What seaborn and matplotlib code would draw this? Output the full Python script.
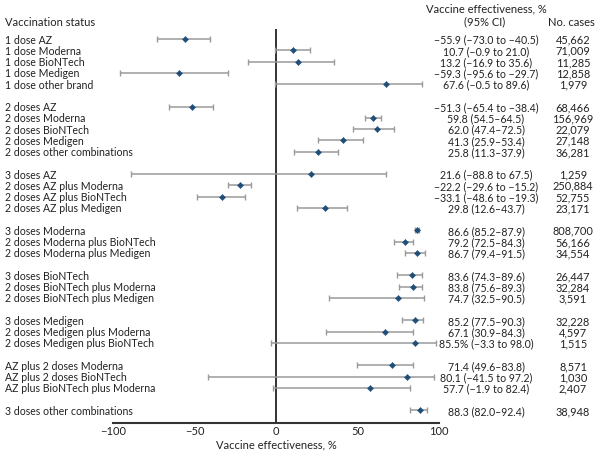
import matplotlib
matplotlib.use("Agg")
import matplotlib.pyplot as plt
from matplotlib import transforms
import seaborn as sns
import numpy as np
import pandas as pd

groups = [
    ["1 dose AZ", "1 dose Moderna", "1 dose BioNTech", "1 dose Medigen", "1 dose other brand"],
    ["2 doses AZ", "2 doses Moderna", "2 doses BioNTech", "2 doses Medigen", "2 doses other combinations"],
    ["3 doses AZ", "2 doses AZ plus Moderna", "2 doses AZ plus BioNTech", "2 doses AZ plus Medigen"],
    ["3 doses Moderna", "2 doses Moderna plus BioNTech", "2 doses Moderna plus Medigen"],
    ["3 doses BioNTech", "2 doses BioNTech plus Moderna", "2 doses BioNTech plus Medigen"],
    ["3 doses Medigen", "2 doses Medigen plus Moderna", "2 doses Medigen plus BioNTech"],
    ["AZ plus 2 doses Moderna", "AZ plus 2 doses BioNTech", "AZ plus BioNTech plus Moderna"],
    ["3 doses other combinations"],
]
ve = [-55.9, 10.7, 13.2, -59.3, 67.6,
      -51.3, 59.8, 62.0, 41.3, 25.8,
      21.6, -22.2, -33.1, 29.8,
      86.6, 79.2, 86.7,
      83.6, 83.8, 74.7,
      85.2, 67.1, 85.5,
      71.4, 80.1, 57.7,
      88.3]
lo = [-73.0, -0.9, -16.9, -95.6, -0.5,
      -65.4, 54.5, 47.4, 25.9, 11.3,
      -88.8, -29.6, -48.6, 12.6,
      85.2, 72.5, 79.4,
      74.3, 75.6, 32.5,
      77.5, 30.9, -3.3,
      49.6, -41.5, -1.9,
      82.0]
hi = [-40.5, 21.0, 35.6, -29.7, 89.6,
      -38.4, 64.5, 72.5, 53.4, 37.9,
      67.5, -15.2, -19.3, 43.7,
      87.9, 84.3, 91.5,
      89.6, 89.3, 90.5,
      90.3, 84.3, 98.0,
      83.8, 97.2, 82.4,
      92.4]
ve_text = ["\u221255.9 (\u221273.0 to \u221240.5)", "10.7 (\u22120.9 to 21.0)", "13.2 (\u221216.9 to 35.6)",
           "\u221259.3 (\u221295.6 to \u221229.7)", "67.6 (\u22120.5 to 89.6)",
           "\u221251.3 (\u221265.4 to \u221238.4)", "59.8 (54.5\u201364.5)", "62.0 (47.4\u201372.5)",
           "41.3 (25.9\u201353.4)", "25.8 (11.3\u201337.9)",
           "21.6 (\u221288.8 to 67.5)", "\u221222.2 (\u221229.6 to \u221215.2)", "\u221233.1 (\u221248.6 to \u221219.3)",
           "29.8 (12.6\u201343.7)",
           "86.6 (85.2\u201387.9)", "79.2 (72.5\u201384.3)", "86.7 (79.4\u201391.5)",
           "83.6 (74.3\u201389.6)", "83.8 (75.6\u201389.3)", "74.7 (32.5\u201390.5)",
           "85.2 (77.5\u201390.3)", "67.1 (30.9\u201384.3)", "85.5% (\u22123.3 to 98.0)",
           "71.4 (49.6\u201383.8)", "80.1 (\u221241.5 to 97.2)", "57.7 (\u22121.9 to 82.4)",
           "88.3 (82.0\u201392.4)"]
cases = ["45,662", "71,009", "11,285", "12,858", "1,979",
         "68,466", "156,969", "22,079", "27,148", "36,281",
         "1,259", "250,884", "52,755", "23,171",
         "808,700", "56,166", "34,554",
         "26,447", "32,284", "3,591",
         "32,228", "4,597", "1,515",
         "8,571", "1,030", "2,407",
         "38,948"]
xticks = [-100, -50, 0, 50, 100]

# slot positions (blank row between groups)
labels, pos = [], []
slot = 0
for g in groups:
    for lab in g:
        labels.append(lab)
        pos.append(slot)
        slot += 1
    slot += 1

df = pd.DataFrame({"label": labels, "pos": pos, "ve": ve, "lo": lo, "hi": hi})

sns.set_style("white")
plt.rcParams["font.family"] = ["Lato", "DejaVu Sans"]
FS_LAB = 7.6
FS_NUM = 7.6
FS_HEAD = 8.0
TXT = "#222222"

fig = plt.figure(figsize=(6, 4.56), dpi=100)
ax = fig.add_axes([113 / 600, (456 - 423.5) / 456, (439 - 113) / 600, (423.5 - 30) / 456])

ax.errorbar(df["ve"], df["pos"], xerr=[df["ve"] - df["lo"], df["hi"] - df["ve"]],
            fmt="none", ecolor="#9a9a9a", elinewidth=1.1, capsize=2.2, capthick=1.0, zorder=2)
sns.scatterplot(data=df, x="ve", y="pos", marker="D", s=10, color="#1f4e79",
                edgecolor="#1f4e79", linewidth=0.3, ax=ax, zorder=3, legend=False)

ax.axvline(0, color="#222222", lw=1.3, zorder=1)
ax.set_xlim(-100, 100)
ax.set_ylim(slot - 1 + 0.07, -0.9)
ax.set_xticks(xticks)
ax.set_xticklabels([("\u2212" + str(abs(t))) if t < 0 else str(t) for t in xticks], fontsize=8.0, color=TXT)
ax.set_yticks([])
ax.set_ylabel("")
ax.set_xlabel("Vaccine effectiveness, %", fontsize=FS_HEAD, color=TXT, labelpad=1.5)
for s in ["top", "right", "left"]:
    ax.spines[s].set_visible(False)
ax.spines["bottom"].set_color("#333333")
ax.spines["bottom"].set_linewidth(1.5)
ax.tick_params(axis="x", direction="in", length=3, width=1, color="#333333", pad=2)

# text columns
tr = transforms.blended_transform_factory(fig.transFigure, ax.transData)
for lab, p, vt, c in zip(labels, pos, ve_text, cases):
    ax.text(5 / 600, p, lab, transform=tr, ha="left", va="center", fontsize=FS_LAB, color=TXT)
    ax.text(486 / 600, p, vt, transform=tr, ha="center", va="center", fontsize=FS_NUM, color=TXT)
    ax.text(573 / 600, p, c, transform=tr, ha="center", va="center", fontsize=FS_NUM + 0.3, color=TXT)

fig.text(5 / 600, 1 - 22 / 456, "Vaccination status", ha="left", va="center", fontsize=FS_HEAD, color=TXT)
fig.text(486 / 600, 1 - 9 / 456, "Vaccine effectiveness, %", ha="center", va="center", fontsize=FS_HEAD, color=TXT)
fig.text(485 / 600, 1 - 22 / 456, "(95% CI)", ha="center", va="center", fontsize=FS_HEAD, color=TXT)
fig.text(571 / 600, 1 - 22 / 456, "No. cases", ha="center", va="center", fontsize=FS_HEAD, color=TXT)

fig.savefig("out.png", dpi=100)
